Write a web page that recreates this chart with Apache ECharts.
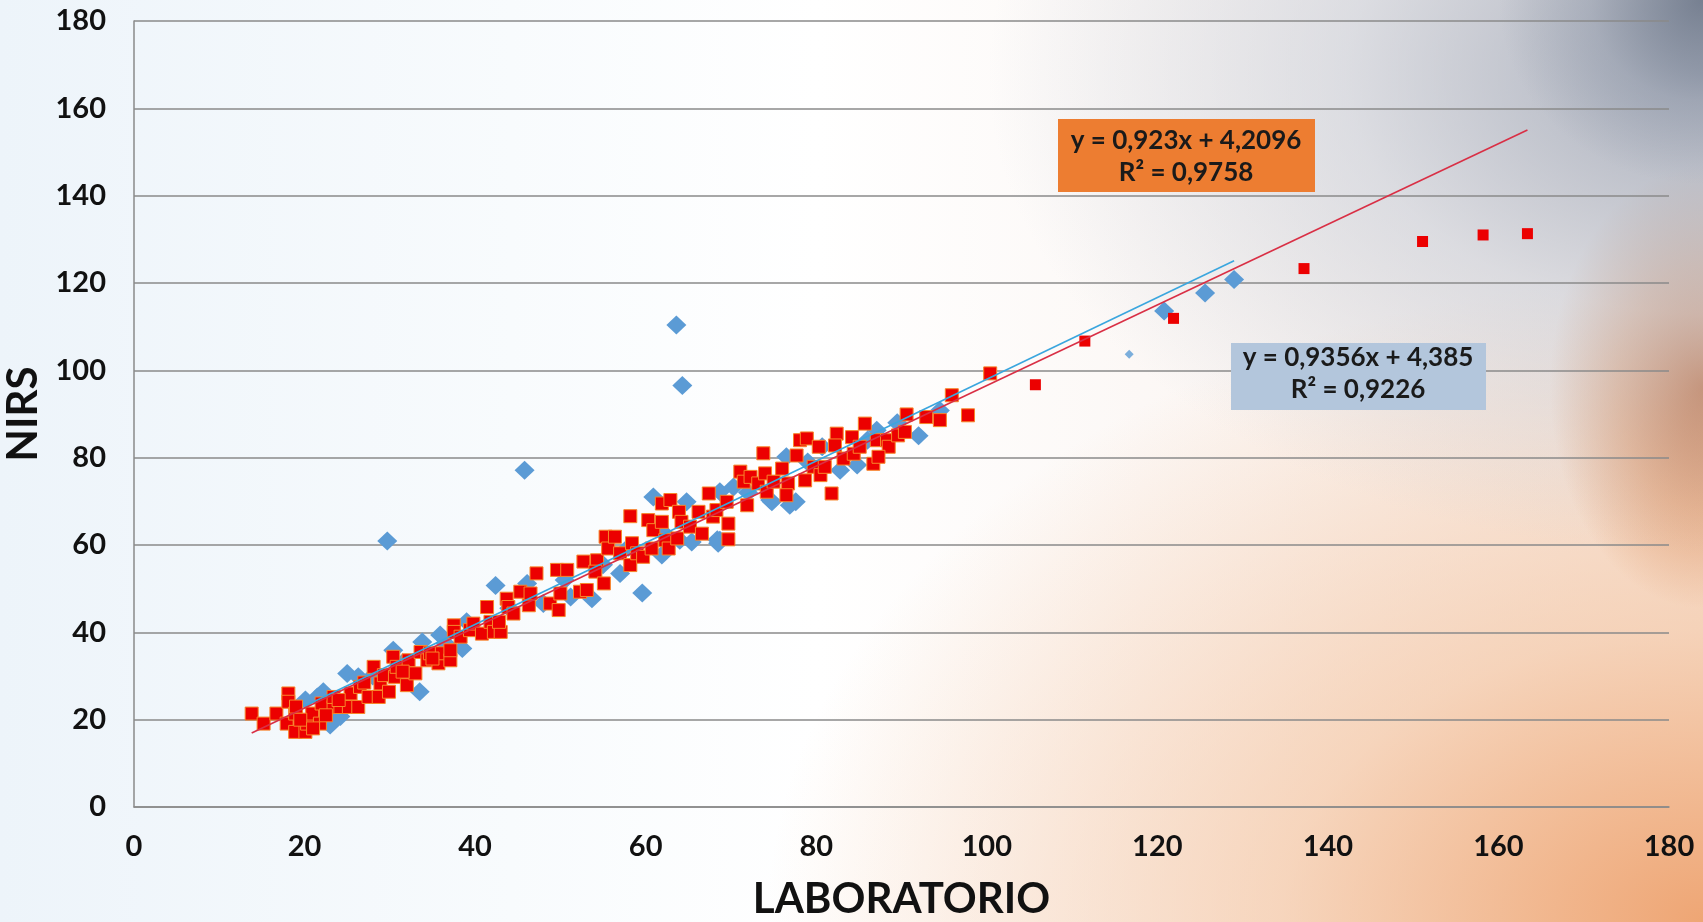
<!DOCTYPE html>
<html>
<head>
<meta charset="utf-8">
<script src="https://cdn.jsdelivr.net/npm/echarts@6/dist/echarts.min.js"></script>
<style>
html,body{margin:0;padding:0;width:1703px;height:922px;overflow:hidden;}
body{
  background:
    radial-gradient(ellipse 12% 20% at 100% 0%, rgba(90,102,122,0.7) 0%, rgba(130,140,158,0.35) 55%, rgba(255,255,255,0) 100%),
    radial-gradient(ellipse 42% 52% at 100% 8%, rgba(150,160,178,0.8) 0%, rgba(195,202,214,0.55) 50%, rgba(255,255,255,0) 100%),
    radial-gradient(ellipse 9% 24% at 100% 42%, rgba(196,112,64,0.95) 0%, rgba(220,145,96,0.6) 55%, rgba(255,255,255,0) 100%),
    radial-gradient(ellipse 55% 70% at 100% 100%, rgba(238,162,110,0.95) 0%, rgba(244,196,160,0.65) 45%, rgba(255,255,255,0) 100%),
    linear-gradient(90deg, #edf4fa 0%, #f8fbfd 30%, #ffffff 48%, #f7ece6 100%);
}
#chart{width:1703px;height:922px;}
</style>
</head>
<body>
<div id="chart"></div>
<script>
// ---- data ----
const xTicks = [0, 20, 40, 60, 80, 100, 120, 140, 160, 180];
const yTicks = [0, 20, 40, 60, 80, 100, 120, 140, 160, 180];

// red squares (main cluster)
const redCluster = [
 [13.8,21.4],[15.2,19.1],[16.7,21.4],[18.1,26.0],[18.1,24.1],[17.9,19.1],[18.9,21.4],[18.9,17.2],[20.1,17.2],[20.3,19.1],
 [20.9,21.4],[22.0,23.7],[21.8,19.1],[23.4,22.9],[23.4,25.2],[24.2,22.9],[25.2,22.9],[25.4,26.0],[26.3,22.9],[26.5,27.5],
 [27.5,25.2],[28.1,32.1],[28.7,25.2],[28.9,28.3],[29.3,30.2],[29.9,26.4],[30.4,34.4],[30.6,29.8],[30.8,32.1],[32.0,27.9],
 [32.2,33.6],[33.0,30.6],[33.6,35.5],[34.4,33.6],[34.7,35.2],[35.7,32.9],[36.1,35.2],[37.1,33.6],[37.1,35.9],[37.5,41.6],
 [37.5,40.1],[38.3,39.0],[39.4,40.5],[39.8,42.0],[40.8,39.7],[41.4,45.8],[41.8,42.4],[42.2,40.1],[43.0,40.1],[42.8,42.4],
 [43.7,47.7],[43.9,45.8],[44.5,44.3],[45.3,49.3],[46.3,46.2],[46.5,48.9],[47.2,53.5],
 [19.5,20.0],[21.0,18.0],[22.5,21.0],[24.0,24.5],[27.0,28.5],[31.5,31.0],[35.0,34.0],[19.0,23.0],
 [48.8,46.6],[49.6,54.3],[50.0,48.9],[49.8,45.1],[50.8,54.3],[52.3,49.3],[53.1,49.7],[52.7,56.2],[54.3,56.5],[54.1,53.9],
 [55.1,51.2],[55.3,61.9],[55.6,59.2],[56.4,61.9],[57.0,58.1],[58.2,55.4],[58.4,60.4],[58.2,66.6],[59.0,58.1],[59.7,57.3],
 [60.3,65.7],[60.7,59.2],[60.9,63.4],[61.9,69.5],[61.9,65.3],[62.3,61.1],[62.9,70.3],[62.7,59.2],[63.9,67.6],[63.7,61.5],
 [64.2,65.3],[65.2,64.2],[66.2,67.6],[66.6,62.6],[67.4,71.8],[67.9,66.5],[68.3,68.0],[69.5,69.9],[69.7,64.9],[69.7,61.3],
 [71.1,76.8],[71.5,74.5],[71.9,69.1],[72.3,75.6],[73.2,74.1],[73.8,81.0],[74.0,76.4],[74.2,72.2],[75.0,74.5],
 [76.0,77.5],[76.7,74.1],[76.5,71.4],[77.7,80.5],[78.1,84.0],[78.9,84.4],[78.7,74.8],[79.7,77.9],[80.3,82.5],[80.5,76.0],
 [81.0,77.9],[81.8,71.8],[82.4,85.5],[82.2,82.8],[83.2,79.8],[84.2,84.7],[84.4,80.9],[85.1,82.5],[85.7,87.8],[86.7,78.6],
 [87.1,84.0],[88.3,84.0],[88.5,82.5],[89.6,85.1],[90.4,85.9],[87.3,80.2],
 [90.6,89.9],[92.9,89.3],[94.5,88.6],[95.9,94.3],[97.8,89.7],[100.4,99.3]
];
// red squares far from the cluster (drawn smaller, no border)
const redFar = [[105.7,96.7],[111.5,106.7],[121.9,111.9],[137.2,123.3],[151.1,129.5],[158.2,131.0],[163.4,131.3]];

// blue diamonds
const blueMain = [
 [29.7,60.9],[45.8,77.1],[63.6,110.4],[64.3,96.5],[59.6,49.0],[53.7,47.7],[33.5,26.4],[92.0,85.0],[120.8,113.6],[125.6,117.7],
 [129.0,120.8],[42.4,50.7],[23.0,18.8],[77.6,69.9],[68.4,61.2],
 [20.1,24.5],[25.0,30.6],[26.3,29.8],[30.4,35.9],[33.8,37.8],[35.9,39.4],[38.5,36.3],[39.0,42.4],[21.5,25.2],[24.2,20.7],
 [22.2,26.4],[46.1,51.2],[48.0,46.6],[51.2,48.1],[57.0,53.5],[60.9,71.0],[64.8,69.9],[68.5,60.4],[65.4,60.7],[61.9,57.7],
 [68.7,72.2],[70.3,73.3],[74.6,70.3],[64.0,61.1],[68.7,61.1],[76.9,69.1],[74.8,69.9],[84.8,78.3],[76.5,80.2],[80.7,82.5],
 [87.1,86.3],[82.8,77.1],[94.5,90.8],
 [28.0,30.0],[31.5,33.0],[36.5,37.5],[44.0,45.5],[50.5,52.0],[55.0,55.5],[58.0,59.5],[62.0,63.0],[72.0,72.0],[79.0,79.0],
 [86.0,84.0],[89.5,88.0]
];
const blueSmall = [[116.7,103.7]];

// trend lines (as given in the chart)
const redFit = {slope: 0.923, intercept: 4.2096, label: ['y = 0,923x + 4,2096', 'R² = 0,9758']};
const blueFit = {slope: 0.9356, intercept: 4.385, label: ['y = 0,9356x + 4,385', 'R² = 0,9226']};

// ---- build ----
const allRed = redCluster.concat(redFar);
const allBlue = blueMain.concat(blueSmall);
function fitLine(pts, fit) {
  const xs = pts.map(p => p[0]);
  const x0 = Math.min(...xs), x1 = Math.max(...xs);
  return [[x0, fit.slope * x0 + fit.intercept], [x1, fit.slope * x1 + fit.intercept]];
}
const FONT = 'Lato, "Open Sans", "DejaVu Sans", sans-serif';
const labelText = (t, x, y) => ({type: 'text', x: x, y: y, z: 11,
  style: {text: t, fontFamily: FONT, fontSize: 26, fontWeight: 'bold', fill: '#1a1a1a',
          textAlign: 'center', textVerticalAlign: 'middle'}});

const chart = echarts.init(document.getElementById('chart'), null, {renderer: 'canvas'});
chart.setOption({
  backgroundColor: 'transparent',
  animation: false,
  grid: {left: 134, right: 34, top: 21, bottom: 115, containLabel: false, outerBoundsMode: 'none'},
  xAxis: {
    type: 'value', min: 0, max: 180, interval: 20,
    name: 'LABORATORIO', nameLocation: 'middle', nameGap: 71,
    nameTextStyle: {fontFamily: FONT, fontWeight: 'bold', fontSize: 42, color: '#111'},
    axisLine: {show: true, lineStyle: {color: '#8a8a8a', width: 1.5}},
    axisTick: {show: false},
    splitLine: {show: false},
    axisLabel: {fontFamily: FONT, fontWeight: 'bold', fontSize: 29, color: '#111', margin: 25,
      formatter: v => xTicks.includes(v) ? String(v) : ''}
  },
  yAxis: {
    type: 'value', min: 0, max: 180, interval: 20,
    name: 'NIRS', nameLocation: 'middle', nameGap: 86, nameRotate: 90,
    nameTextStyle: {fontFamily: FONT, fontWeight: 'bold', fontSize: 42, color: '#111'},
    axisLine: {show: true, lineStyle: {color: '#8a8a8a', width: 1.5}},
    axisTick: {show: false},
    splitLine: {show: true, lineStyle: {color: '#8a8a8a', width: 1.5}},
    axisLabel: {fontFamily: FONT, fontWeight: 'bold', fontSize: 29, color: '#111', margin: 28,
      formatter: v => yTicks.includes(v) ? String(v) : ''}
  },
  series: [
    {type: 'scatter', name: 'blue', data: blueMain, symbol: 'diamond', symbolSize: [20, 19],
     itemStyle: {color: '#5b9bd5', opacity: 1}, z: 2},
    {type: 'scatter', name: 'blueSmall', data: blueSmall, symbol: 'diamond', symbolSize: 9,
     itemStyle: {color: '#5b9bd5'}, z: 2},
    {type: 'scatter', name: 'red', data: redCluster, symbol: 'rect', symbolSize: 13,
     itemStyle: {color: '#ec0000', borderColor: '#f7862a', borderWidth: 1, opacity: 1}, z: 3},
    {type: 'scatter', name: 'redFar', data: redFar, symbol: 'rect', symbolSize: 11,
     itemStyle: {color: '#ec0000', opacity: 1}, z: 3},
    {type: 'line', name: 'blueFit', data: fitLine(allBlue, blueFit), symbol: 'none',
     lineStyle: {color: '#3aa6de', width: 1.6}, z: 4},
    {type: 'line', name: 'redFit', data: fitLine(allRed, redFit), symbol: 'none',
     lineStyle: {color: '#d92f45', width: 1.6}, z: 5}
  ],
  graphic: [
    {type: 'rect', left: 1058, top: 119, shape: {width: 257, height: 73}, style: {fill: '#ed7d31'}, z: 10},
    labelText(redFit.label[0], 1186, 141),
    labelText(redFit.label[1], 1186, 173),
    {type: 'rect', left: 1231, top: 343, shape: {width: 255, height: 67}, style: {fill: '#b3c6dc'}, z: 10},
    labelText(blueFit.label[0], 1358, 358),
    labelText(blueFit.label[1], 1358, 390)
  ]
});
</script>
</body>
</html>
